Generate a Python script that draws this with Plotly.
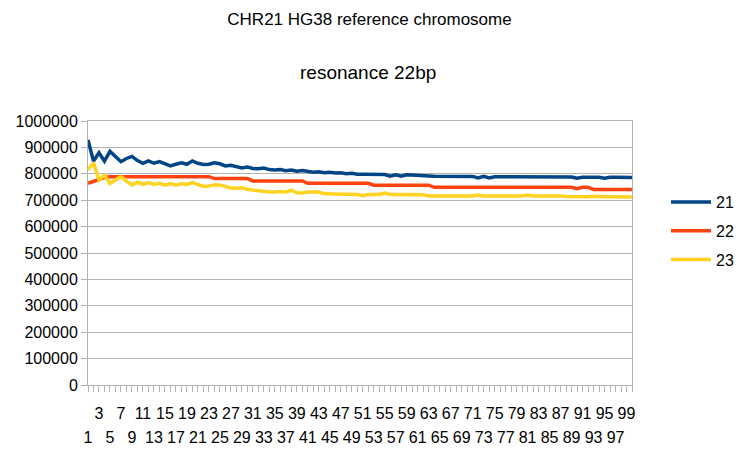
import plotly.graph_objects as go

categories = list(range(1, 101))

series_names = ["21", "22", "23"]

s21 = [928000, 848000, 880000, 848000, 885000, 866000, 846000, 858000, 866000, 850000,
       840000, 849000, 840000, 846000, 838000, 830000, 836000, 842000, 836000, 849000,
       840000, 835000, 836000, 842000, 838000, 830000, 832000, 828000, 822000, 826000,
       820000, 819000, 822000, 816000, 814000, 816000, 812000, 814000, 810000, 812000,
       808000, 806000, 808000, 804000, 806000, 803000, 804000, 800000, 802000, 798000,
       798000, 798000, 797000, 797000, 797000, 791000, 796000, 791000, 796000, 795000,
       793000, 792000, 792000, 791000, 791000, 791000, 788000, 791000, 790000, 790000,
       790000, 784000, 790000, 784000, 789000, 789000, 789000, 789000, 789000, 789000,
       788000, 788000, 788000, 788000, 788000, 788000, 788000, 788000, 788000, 783000,
       787000, 787000, 787000, 787000, 783000, 787000, 787000, 786000, 786000, 786000]

s22 = [764000, 771000, 780000, 786000, 789000, 789000, 789000, 789000, 789000, 789000,
       789000, 789000, 789000, 789000, 789000, 789000, 789000, 789000, 789000, 789000,
       789000, 789000, 789000, 782000, 782000, 782000, 782000, 782000, 782000, 782000,
       773000, 773000, 773000, 773000, 773000, 773000, 773000, 773000, 773000, 773000,
       764000, 764000, 764000, 764000, 764000, 764000, 764000, 764000, 764000, 764000,
       764000, 764000, 757000, 757000, 757000, 757000, 757000, 757000, 757000, 757000,
       757000, 757000, 757000, 749000, 749000, 749000, 749000, 749000, 749000, 749000,
       749000, 749000, 749000, 749000, 749000, 749000, 749000, 749000, 749000, 749000,
       749000, 749000, 749000, 749000, 749000, 749000, 749000, 749000, 749000, 744000,
       749000, 749000, 741000, 741000, 741000, 741000, 741000, 741000, 741000, 741000]

s23 = [815000, 842000, 776000, 795000, 763000, 778000, 790000, 772000, 758000, 768000,
       760000, 767000, 760000, 764000, 757000, 763000, 757000, 762000, 760000, 767000,
       760000, 752000, 754000, 758000, 758000, 752000, 746000, 745000, 747000, 741000,
       738000, 738000, 734000, 731000, 731000, 733000, 731000, 738000, 728000, 727000,
       731000, 732000, 731000, 724000, 724000, 723000, 723000, 724000, 723000, 722000,
       717000, 722000, 722000, 722000, 727000, 722000, 722000, 722000, 722000, 721000,
       721000, 721000, 716000, 716000, 716000, 716000, 716000, 716000, 716000, 716000,
       716000, 720000, 716000, 716000, 716000, 716000, 716000, 716000, 716000, 716000,
       720000, 716000, 716000, 716000, 716000, 719000, 716000, 714000, 713000, 713000,
       713000, 713000, 715000, 713000, 713000, 713000, 712000, 712000, 712000, 712000]

colors = ["#004586", "#ff420e", "#ffd320"]

top_row_ticks = [c for c in categories if c % 4 == 3]
bottom_row_ticks = [c for c in categories if c % 4 == 1]
y_ticks = [i * 100000 for i in range(11)]

FONT = "Liberation Sans, Arial, sans-serif"
GRID = "#b3b3b3"

fig = go.Figure()
for name, vals, col in zip(series_names, [s21, s22, s23], colors):
    fig.add_trace(go.Scatter(
        x=categories, y=vals, name=name, mode="lines",
        line=dict(color=col, width=3.5), legendgroup=name,
    ))

fig.update_layout(
    width=739, height=449,
    margin=dict(l=88, r=107, t=121, b=64, autoexpand=False),
    paper_bgcolor="white", plot_bgcolor="white",
    font=dict(family=FONT, size=16, color="#000000"),
    title=dict(text="CHR21 HG38 reference chromosome", x=0.5, xref="container",
               xanchor="center", y=1 - 19 / 449, yanchor="middle",
               font=dict(size=17, family=FONT, color="#000000")),
    showlegend=True,
    legend=dict(x=1.0625, xanchor="left", y=(385 - 231) / 264, yanchor="middle",
                font=dict(size=16, family=FONT), tracegroupgap=5,
                itemwidth=40, bgcolor="rgba(0,0,0,0)"),
    xaxis=dict(
        range=[1, 100], tickmode="array", tickvals=top_row_ticks,
        ticktext=[str(c) for c in top_row_ticks],
        ticks="outside", ticklen=6, tickcolor=GRID, tickwidth=1,
        minor=dict(dtick=1, tick0=1, ticks="outside", ticklen=6, tickcolor=GRID, showgrid=False),
        showgrid=False, showline=True, linecolor=GRID, linewidth=1, mirror=True,
        zeroline=False, tickangle=0, ticklabelstandoff=8, automargin=False,
        tickfont=dict(size=16, family=FONT, color="#000000"),
    ),
    xaxis2=dict(
        range=[1, 100], overlaying="x", anchor="y", side="bottom",
        tickmode="array", tickvals=bottom_row_ticks,
        ticktext=[str(c) for c in bottom_row_ticks],
        ticks="", showgrid=False, showline=False, zeroline=False, tickangle=0,
        ticklabelstandoff=41, automargin=False,
        tickfont=dict(size=16, family=FONT, color="#000000"),
    ),
    yaxis=dict(
        range=[0, 1000000], tickmode="array", tickvals=y_ticks,
        ticktext=[str(v) for v in y_ticks],
        ticks="outside", ticklen=6, tickcolor=GRID, automargin=False,
        showgrid=True, gridcolor=GRID, gridwidth=1,
        showline=True, linecolor=GRID, linewidth=1, mirror=True, zeroline=False,
        tickfont=dict(size=16, family=FONT, color="#000000"),
    ),
)

fig.add_trace(go.Scatter(x=[1, 100], y=[None, None], xaxis="x2", yaxis="y",
                         showlegend=False, hoverinfo="skip"))

fig.add_annotation(text="resonance 22bp", xref="paper", yref="paper",
                   x=(368 - 88) / 544, y=1 + (121 - 72) / 264, xanchor="center", yanchor="middle",
                   showarrow=False, font=dict(size=19, family=FONT, color="#000000"))

fig.write_html("out.html", config={"displayModeBar": False},
               post_script="document.body.style.margin='0';document.body.style.padding='0';")
